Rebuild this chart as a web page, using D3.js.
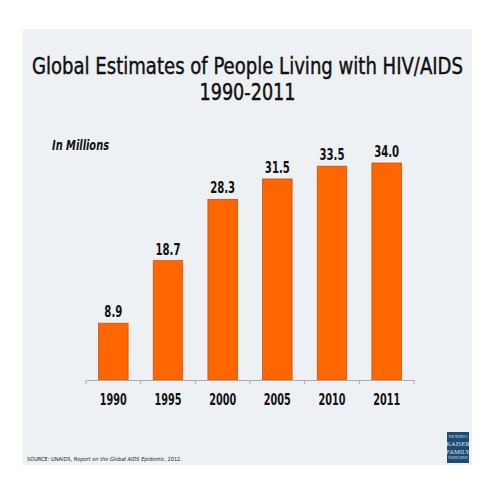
<!DOCTYPE html>
<html>
<head>
<meta charset="utf-8">
<script src="https://cdn.jsdelivr.net/npm/d3@7"></script>
<style>
  body { margin: 0; background: #ffffff; }
  text { font-family: "Liberation Sans Narrow", "DejaVu Sans Condensed", sans-serif; }
</style>
</head>
<body>
<svg id="chart" width="495" height="495"></svg>
<script>
const years = ["1990", "1995", "2000", "2005", "2010", "2011"];
const people = [8.9, 18.7, 28.3, 31.5, 33.5, 34.0];

const largeur = 495,
    hauteur = 495;

const svg = d3.select("#chart");

// panel background
svg.append("rect")
    .attr("x", 23).attr("y", 29)
    .attr("width", 449).attr("height", 436)
    .attr("fill", "#eef1f4");

const x = d3.scaleBand()
    .domain(years)
    .range([86, 414])
    .paddingInner(0.46)
    .paddingOuter(0.23);

const y = d3.scaleLinear()
    .domain([0, 34])
    .range([380, 163]);

// bars
svg.append("g")
    .selectAll("rect")
    .data(people)
    .enter()
    .append("rect")
    .attr("x", (d, i) => x(years[i]))
    .attr("y", (d) => y(d))
    .attr("width", x.bandwidth())
    .attr("height", (d) => y(0) - y(d))
    .attr("fill", "#ff6600")
    .attr("stroke", "#c8530e")
    .attr("stroke-width", 0.8);

// value labels (squeezed to mimic the narrow face)
svg.append("g")
    .selectAll("text")
    .data(people)
    .enter()
    .append("text")
    .text((d) => d.toFixed(1))
    .attr("x", (d, i) => x(years[i]) + x.bandwidth() / 2)
    .attr("y", (d) => y(d) - 6)
    .attr("text-anchor", "middle")
    .attr("textLength", (d) => d < 10 ? 18 : 25)
    .attr("lengthAdjust", "spacingAndGlyphs")
    .style("font-size", "15px")
    .style("font-weight", "bold")
    .attr("fill", "#111");

// x axis
const axis = svg.append("g")
    .attr("transform", "translate(0,380)")
    .call(d3.axisBottom(x).tickSize(0).tickPadding(14));

axis.select(".domain").attr("stroke", "#a9acb0").attr("stroke-width", 1.2);
axis.selectAll("text")
    .attr("textLength", 27)
    .attr("lengthAdjust", "spacingAndGlyphs")
    .style("font-size", "15px")
    .style("font-weight", "bold")
    .attr("fill", "#111");

// boundary ticks between categories
const tickPos = d3.range(years.length + 1).map((i) => 86 + i * (328 / years.length));
axis.selectAll(".sep")
    .data(tickPos)
    .enter()
    .append("line")
    .attr("class", "sep")
    .attr("x1", (d) => d).attr("x2", (d) => d)
    .attr("y1", 0).attr("y2", 4)
    .attr("stroke", "#a9acb0")
    .attr("stroke-width", 1);

// title, stretched a little vertically so the natural width stays inside
const titleLines = [["Global Estimates of People Living with HIV/AIDS", 74, 431], ["1990-2011", 100, 96]];
titleLines.forEach((t) => {
    svg.append("g")
        .attr("transform", "translate(" + largeur / 2 + "," + t[1] + ") scale(1,1.1)")
        .append("text")
        .text(t[0])
        .attr("x", 0).attr("y", 0)
        .attr("text-anchor", "middle")
        .attr("textLength", t[2])
        .attr("lengthAdjust", "spacingAndGlyphs")
        .style("font-size", "21px")
        .attr("fill", "#111")
        .attr("stroke", "#111")
        .attr("stroke-width", 0.4);
});

svg.append("text")
    .text("In Millions")
    .attr("x", 52).attr("y", 150)
    .attr("textLength", 57)
    .attr("lengthAdjust", "spacingAndGlyphs")
    .style("font-size", "14px")
    .style("font-style", "italic")
    .style("font-weight", "bold")
    .attr("fill", "#111");

// source
const src = svg.append("text")
    .attr("x", 27).attr("y", 461)
    .style("font-size", "5.6px")
    .attr("fill", "#222");
src.append("tspan").text("SOURCE: UNAIDS, ");
src.append("tspan").text("Report on the Global AIDS Epidemic").style("font-style", "italic");
src.append("tspan").text(", 2012.");

// logo
const logo = svg.append("g").attr("transform", "translate(447,432)");
logo.append("rect")
    .attr("width", 22).attr("height", 31)
    .attr("fill", "#1f4a73");
logo.selectAll("text")
    .data([["THE HENRY J.", 6, 3], ["KAISER", 14, 6.5], ["FAMILY", 22, 6.5], ["FOUNDATION", 27, 3]])
    .enter()
    .append("text")
    .text((d) => d[0])
    .attr("x", 11).attr("y", (d) => d[1])
    .attr("text-anchor", "middle")
    .style("font-family", "Liberation Serif, serif")
    .style("font-size", (d) => d[2] + "px")
    .attr("fill", "#dfe6ee");
</script>
</body>
</html>
